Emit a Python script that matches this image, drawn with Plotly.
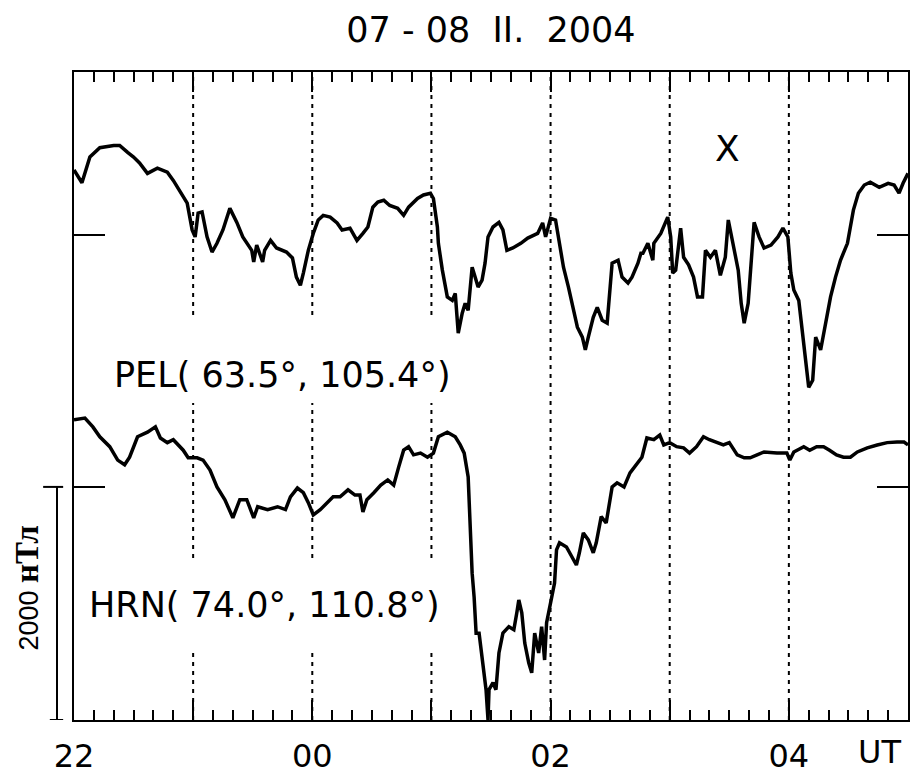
import plotly.graph_objects as go

# minutes after 22:00 UT, 07 Feb 2004; field deviations in nT from each station's baseline
PEL_T = [
    0, 4, 8, 13, 20, 23, 27, 30, 33, 37,
    42, 47, 50, 53, 57, 59.5, 61, 62.5, 64.5, 67,
    69.5, 72, 75, 78.5, 82, 85, 89.5, 90.5, 92, 95,
    96, 99, 102, 107, 110, 112, 114, 115.5, 118, 120.5,
    123, 125.5, 129, 132.5, 135, 139, 142.5, 145.5, 148, 150.5,
    153, 156, 159, 163, 166, 168.5, 173, 176, 179.5, 181,
    183, 183.5, 185.5, 188, 190.5, 192, 193, 193.5, 195.5, 197,
    198.5, 200.5, 202, 203.5, 205.5, 207, 208.5, 211, 214, 216,
    218, 221, 225, 228.5, 233.5, 236, 237.5, 240, 242.5, 244,
    246.5, 249, 251.5, 253.5, 256, 257.5, 259, 261.5, 263.5, 266,
    268.5, 271, 274, 276, 279, 281, 284, 285.5, 286.5, 289,
    291.5, 292, 295.5, 299, 300.5, 301.5, 303, 305.5, 307, 309.5,
    312, 314, 316.5, 318, 320.5, 323, 325.5, 328, 329.5, 332,
    334.5, 336, 337.5, 339.5, 341, 342.5, 345, 347.5, 351, 354.5,
    357, 359.5, 361, 362.5, 365, 367, 368.5, 370, 372, 373.5,
    376, 378.5, 381, 383.5, 386, 389.5, 392.5, 395, 398, 401,
    405.5, 410, 413, 415.5, 417.5, 420,
]
PEL_NT = [
    560, 450, 670, 750, 770, 770, 710, 670, 620, 530,
    575, 540, 470, 385, 275, 45, -15, 190, 200, -15,
    -145, -70, 45, 230, 110, -15, -130, -230, -85, -230,
    -130, -45, -110, -145, -195, -360, -430, -325, -130, 15,
    130, 170, 155, 105, 45, 60, -45, 15, 70, 240,
    285, 300, 255, 230, 170, 240, 315, 345, 360, 315,
    70, -70, -300, -530, -560, -500, -705, -840, -670, -585,
    -645, -275, -360, -445, -385, -240, -15, 70, 110, 45,
    -130, -110, -70, -25, 15, 105, -15, 145, 130, -15,
    -275, -445, -645, -790, -875, -985, -875, -705, -620, -730,
    -755, -240, -215, -360, -410, -360, -240, -155, -155, -70,
    -215, -70, 15, 155, -15, -325, -300, 60, -190, -255,
    -360, -530, -530, -130, -190, -130, -345, -190, 130, -105,
    -300, -585, -755, -585, -190, 110, -15, -110, -85, -15,
    60, -15, -325, -470, -560, -875, -1135, -1305, -1245, -875,
    -985, -755, -530, -360, -215, -70, 215, 360, 430, 455,
    410, 445, 430, 360, 445, 530,
]

HRN_T = [
    0, 5.5, 9.5, 13, 18, 22, 25.5, 28, 32, 37,
    41, 43.5, 47, 50, 55, 57.5, 62, 65, 68.5, 72,
    76, 80, 83.5, 87, 90.5, 92.5, 97.5, 102.5, 106.5, 109,
    112.5, 115.5, 118, 120.5, 124, 127.5, 130.5, 134, 138, 141.5,
    144, 145.5, 147.5, 151, 154.5, 158, 161, 163.5, 166, 168.5,
    171, 174.5, 178, 181, 183.5, 188, 192, 194.5, 196.5, 198.5,
    199, 200, 200.5, 201.5, 202.5, 204, 206, 207.5, 208.5, 209,
    211, 212.5, 214, 216, 219, 221.5, 223, 224, 225.5, 227,
    229, 230.5, 232, 234, 235.5, 237, 238, 240.5, 242, 243,
    244.5, 248, 251.5, 253, 254.5, 256.5, 259, 261.5, 263, 265.5,
    268, 271, 273.5, 277, 280, 283.5, 286, 288.5, 292, 295,
    297, 300, 303.5, 307, 310, 313.5, 317, 320, 323.5, 327,
    330, 334, 337.5, 340.5, 344, 347.5, 354, 359, 360.5, 362.5,
    367.5, 370.5, 374, 377.5, 380.5, 384, 387.5, 391, 394.5, 399.5,
    404.5, 409.5, 414.5, 418, 420,
]
HRN_NT = [
    575, 590, 515, 430, 345, 230, 190, 255, 430, 470,
    515, 420, 380, 405, 315, 250, 250, 230, 145, 0,
    -110, -265, -110, -110, -265, -170, -195, -170, -195, -85,
    -10, -50, -135, -240, -195, -135, -85, -85, -25, -70,
    -70, -215, -110, -50, 15, 60, 15, 170, 315, 345,
    275, 290, 255, 290, 430, 470, 430, 360, 290, 85,
    -110, -455, -740, -945, -1255, -1255, -1545, -1740, -2000, -1740,
    -1680, -1740, -1425, -1255, -1200, -1225, -1080, -970, -1080, -1340,
    -1510, -1595, -1255, -1425, -1200, -1485, -1165, -970, -825, -540,
    -480, -515, -625, -670, -565, -395, -455, -565, -480, -255,
    -310, 0, 35, 0, 120, 205, 255, 420, 405, 445,
    360, 380, 345, 335, 290, 345, 430, 405, 385, 360,
    380, 275, 250, 250, 275, 300, 290, 290, 230, 300,
    345, 315, 345, 345, 315, 275, 255, 255, 300, 335,
    360, 380, 385, 385, 360,
]

PEL_BASE = 4160   # vertical offset of the PEL trace (nT)
HRN_BASE = 2000   # vertical offset of the HRN trace (nT)
Y_TOP = 5560
HOURS = [0, 60, 120, 180, 240, 300, 360, 420]
HOUR_LABELS = ["22", "", "00", "", "02", "", "04", ""]

FONT = "DejaVu Sans"

fig = go.Figure()
for t, v, base in ((PEL_T, PEL_NT, PEL_BASE), (HRN_T, HRN_NT, HRN_BASE)):
    fig.add_trace(go.Scatter(
        x=t, y=[base + d for d in v], mode="lines",
        line=dict(color="black", width=3.5), showlegend=False, hoverinfo="skip",
    ))
# empty trace so the top (mirror) time axis gets drawn with its minor ticks
fig.add_trace(go.Scatter(x=[], y=[], xaxis="x2", showlegend=False, hoverinfo="skip"))

# dotted hour lines, interrupted where the station labels sit
for h in HOURS[1:-1]:
    fig.add_shape(type="line", x0=h, x1=h, y0=0, y1=Y_TOP, layer="below",
                  line=dict(color="black", width=2, dash="4px,5px"))
for y0, y1 in ((2720, 3460), (585, 1370)):
    fig.add_shape(type="rect", x0=40, x1=190, y0=y0, y1=y1, layer="below",
                  fillcolor="white", line=dict(width=0))

# 2000 nT scale bar on the left
fig.add_shape(type="line", xref="paper", yref="y", x0=-0.0204, x1=-0.0204,
              y0=0, y1=HRN_BASE, line=dict(color="black", width=2))
fig.add_shape(type="line", xref="paper", yref="y", x0=-0.037, x1=-0.013,
              y0=HRN_BASE, y1=HRN_BASE, line=dict(color="black", width=2))
fig.add_shape(type="line", xref="paper", yref="y", x0=-0.029, x1=-0.013,
              y0=0, y1=0, line=dict(color="black", width=2))
fig.add_annotation(
    xref="paper", yref="y", x=-0.056, y=1130, xanchor="center", yanchor="middle",
    textangle=-90, showarrow=False,
    text="2000 <span style='font-family:Liberation Serif;font-size:33px'><b>нТл</b></span>",
    font=dict(family="Liberation Sans", size=27, color="black"),
)

fig.add_annotation(xref="paper", yref="y", x=0.045, y=2960, xanchor="left", yanchor="middle",
                   text="PEL( 63.5°, 105.4°)", showarrow=False,
                   font=dict(family=FONT, size=35, color="black"))
fig.add_annotation(xref="paper", yref="y", x=0.015, y=985, xanchor="left", yanchor="middle",
                   text="HRN( 74.0°, 110.8°)", showarrow=False,
                   font=dict(family=FONT, size=35, color="black"))
fig.add_annotation(xref="paper", yref="y", x=0.783, y=4900, xanchor="center", yanchor="middle",
                   text="X", showarrow=False, font=dict(family=FONT, size=36, color="black"))
fig.add_annotation(xref="paper", yref="paper", x=0.966, y=-0.05, xanchor="center",
                   yanchor="middle", text="UT", showarrow=False, borderpad=0,
                   font=dict(family=FONT, size=32, color="black"))

tick_style = dict(
    range=[0, 420], tickmode="array", tickvals=HOURS,
    ticks="inside", ticklen=20, tickwidth=2, tickcolor="black",
    minor=dict(dtick=10, tick0=0, ticks="inside", ticklen=10, tickwidth=2, tickcolor="black"),
    showgrid=False, zeroline=False, automargin=False,
)
fig.update_layout(
    xaxis=dict(
        **tick_style, ticktext=HOUR_LABELS,
        showline=True, linewidth=2, linecolor="black", mirror=True,
        ticklabelstandoff=7,
        tickfont=dict(family=FONT, size=32, color="black"),
    ),
    xaxis2=dict(**tick_style, overlaying="x", side="top", matches="x",
                showticklabels=False, showline=False),
    yaxis=dict(
        range=[0, Y_TOP], tickmode="array", tickvals=[HRN_BASE, PEL_BASE], showticklabels=False,
        ticks="inside", ticklen=31, tickwidth=2, tickcolor="black",
        showline=True, linewidth=2, linecolor="black", mirror="ticks",
        showgrid=False, zeroline=False, automargin=False,
    ),
    width=916, height=775,
    margin=dict(l=74, r=8, t=72, b=55, autoexpand=False),
    paper_bgcolor="white", plot_bgcolor="white",
    title=dict(text="07 - 08  II.  2004", x=0.5, xref="paper", y=0.961, yref="container",
               xanchor="center", yanchor="middle", automargin=False,
               font=dict(family=FONT, size=35, color="black")),
)

# the page's default 8px body margin would push the figure off the 916x775 window
fig.write_html("out.html", config={"displayModeBar": False},
               post_script="document.body.style.margin='0';")
